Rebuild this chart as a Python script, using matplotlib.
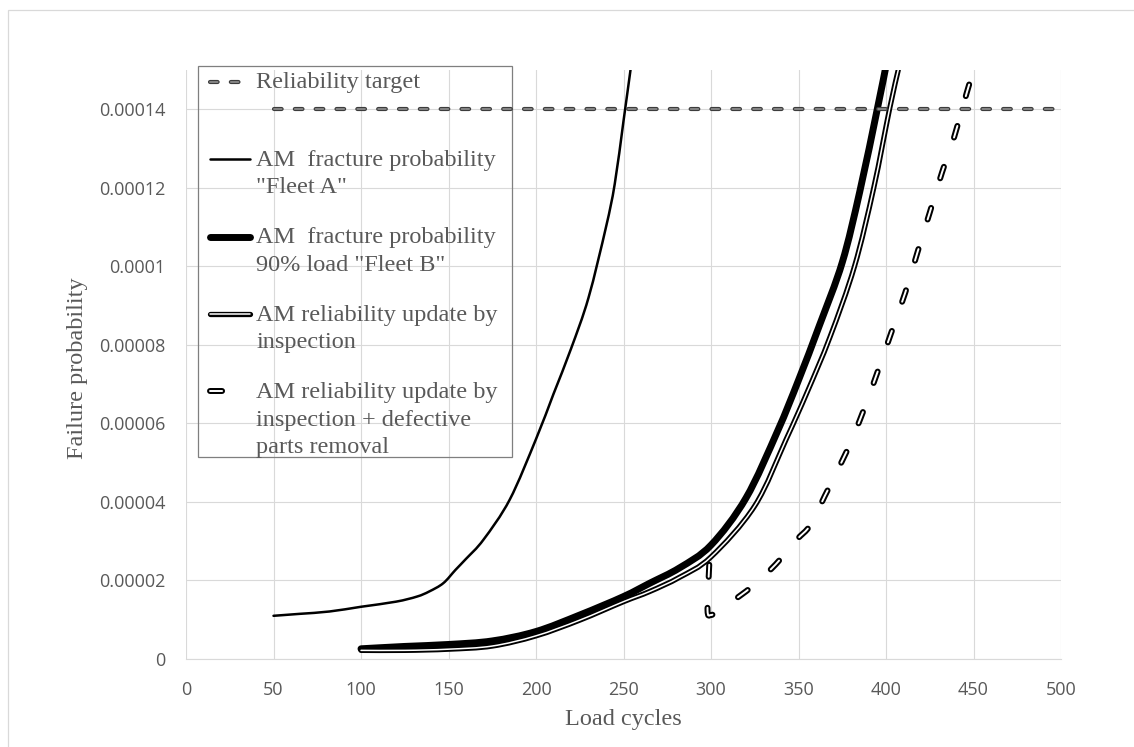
import numpy as np
import matplotlib
matplotlib.use("Agg")
import matplotlib.pyplot as plt
from matplotlib.legend_handler import HandlerLine2D
from matplotlib.lines import Line2D
from matplotlib.patches import Rectangle, PathPatch
from matplotlib.path import Path
import matplotlib.patheffects as pe

######  data  ######

# reliability target
target_x = [50, 500]
target_y = [0.00014, 0.00014]

# AM fracture probability "Fleet A"
fleetA_x = [50, 65, 82, 100, 120, 132, 139, 147, 154, 160, 170, 185, 200, 210, 220, 230, 240, 245, 250, 254]
fleetA_y = [1.10e-5, 1.15e-5, 1.21e-5, 1.33e-5, 1.46e-5, 1.59e-5, 1.72e-5, 1.93e-5, 2.27e-5, 2.55e-5,
            3.04e-5, 4.06e-5, 5.6e-5, 6.75e-5, 7.9e-5, 9.2e-5, 11.0e-5, 12.1e-5, 13.7e-5, 15.0e-5]

# AM fracture probability 90% load "Fleet B"
fleetB_x = [100, 125, 150, 175, 200, 225, 250, 265, 282, 300, 320, 338, 350, 362, 375, 385, 395, 400]
fleetB_y = [0.26e-5, 0.32e-5, 0.37e-5, 0.46e-5, 0.70e-5, 1.12e-5, 1.59e-5, 1.93e-5, 2.32e-5, 2.9e-5,
            4.1e-5, 5.8e-5, 7.1e-5, 8.5e-5, 10.1e-5, 11.9e-5, 14.0e-5, 15.1e-5]

# AM reliability update by inspection
insp_x = [100, 125, 150, 175, 200, 225, 250, 265, 282, 300, 325, 343, 355, 368, 382, 393, 402, 407]
insp_y = [0.22e-5, 0.22e-5, 0.25e-5, 0.33e-5, 0.59e-5, 0.99e-5, 1.46e-5, 1.72e-5, 2.08e-5, 2.6e-5,
          3.9e-5, 5.6e-5, 6.8e-5, 8.2e-5, 10.0e-5, 12.0e-5, 14.0e-5, 15.0e-5]

# AM reliability update by inspection + defective parts removal
remov_x = [299, 298, 300, 305, 315, 325, 333, 341, 349, 357, 365, 378, 387, 395, 403, 411, 418, 425,
           432, 439, 446, 450]
remov_y = [2.4e-5, 1.25e-5, 1.12e-5, 1.25e-5, 1.56e-5, 1.90e-5, 2.23e-5, 2.61e-5, 3.04e-5, 3.42e-5,
           4.15e-5, 5.33e-5, 6.31e-5, 7.29e-5, 8.31e-5, 9.33e-5, 10.36e-5, 11.37e-5, 12.39e-5,
           13.3e-5, 14.4e-5, 15.0e-5]

labels = ['Reliability target\n',
          'AM  fracture probability\n"Fleet A"',
          'AM  fracture probability\n90% load "Fleet B"',
          'AM reliability update by\ninspection',
          'AM reliability update by\ninspection + defective\nparts removal']

xticks = [0, 50, 100, 150, 200, 250, 300, 350, 400, 450, 500]
yticks = [0, 0.00002, 0.00004, 0.00006, 0.00008, 0.0001, 0.00012, 0.00014]
ytick_labels = ['0', '0.00002', '0.00004', '0.00006', '0.00008', '0.0001', '0.00012', '0.00014']

XMAX, YMAX = 500, 0.00015

######  style  ######

plt.rcParams['lines.scale_dashes'] = False
grey_txt = '#595959'
serif = 'Liberation Serif'
LEG_FS = 17.5


def smooth_path(x, y):
    """Excel-like 'smoothed line': Catmull-Rom through the points, as bezier segments"""
    P = np.column_stack([np.asarray(x, float) / XMAX, np.asarray(y, float) / YMAX])
    n = len(P)
    verts = [P[0]]
    codes = [Path.MOVETO]
    for i in range(n - 1):
        p0 = P[i - 1] if i > 0 else P[i]
        p3 = P[i + 2] if i + 2 < n else P[i + 1]
        verts += [P[i] + (P[i + 1] - p0) / 6, P[i + 1] - (p3 - P[i]) / 6, P[i + 1]]
        codes += [Path.CURVE4] * 3
    return Path(np.array(verts) * [XMAX, YMAX], codes)


class FirstLineHandler(HandlerLine2D):
    """legend handle sitting on the first text line (Excel style)"""
    def __init__(self, lift, **kw):
        super().__init__(marker_pad=0, **kw)
        self.lift = lift

    def create_artists(self, legend, orig_handle, xdescent, ydescent, width, height, fontsize, trans):
        arts = super().create_artists(legend, orig_handle, xdescent, ydescent, width, height, fontsize, trans)
        for a in arts:
            a.set_ydata(np.asarray(a.get_ydata()) + self.lift)
        return arts


fig = plt.figure(figsize=(11.34, 7.47), dpi=100)
W, H = 1134, 747
ax = fig.add_axes([186 / W, 1 - 659 / H, 875 / W, 589 / H])

# outer chart border (only left/top edges visible)
fig.add_artist(Rectangle((8 / W, -0.05), 1.2, 1 - 10 / H + 0.05, transform=fig.transFigure,
                         fill=False, edgecolor='#d9d9d9', linewidth=0.9))

# line styles (also used for the legend proxies)
st_target = dict(color='#8a8a8a', lw=1.3, dashes=(5.5, 9.5), dash_capstyle='round',
                 path_effects=[pe.Stroke(linewidth=3.0, foreground='#3c3c3c'), pe.Normal()])
st_a = dict(color='black', lw=1.8, solid_capstyle='round')
st_b = dict(color='black', lw=5, solid_capstyle='round')
st_insp = dict(color='white', lw=1.1, solid_capstyle='round',
               path_effects=[pe.Stroke(linewidth=3.8, foreground='black'), pe.Normal()])
st_rem = dict(color='white', lw=1.4, dashes=(8.7, 22.3), dash_capstyle='round',
              path_effects=[pe.Stroke(linewidth=4.3, foreground='black'), pe.Normal()])

ax.plot(target_x, target_y, **st_target)
ax.add_patch(PathPatch(smooth_path(fleetA_x, fleetA_y), fill=False, edgecolor='black', lw=1.8,
                       capstyle='round', joinstyle='round'))
ax.add_patch(PathPatch(smooth_path(fleetB_x, fleetB_y), fill=False, edgecolor='black', lw=5,
                       capstyle='round', joinstyle='round'))
ax.add_patch(PathPatch(smooth_path(insp_x, insp_y), fill=False, edgecolor='white', lw=1.1,
                       capstyle='round', joinstyle='round',
                       path_effects=[pe.Stroke(linewidth=3.8, foreground='black'), pe.Normal()]))
ax.add_patch(PathPatch(smooth_path(remov_x, remov_y), fill=False, edgecolor='white', lw=1.4,
                       linestyle=(0, (8.7, 22.3)), capstyle='round', joinstyle='round',
                       path_effects=[pe.Stroke(linewidth=4.3, foreground='black'), pe.Normal()]))

ax.set_xlim(0, XMAX)
ax.set_ylim(0, YMAX)
ax.set_xticks(xticks)
ax.set_yticks(yticks)
ax.set_yticklabels(ytick_labels)
ax.grid(True, color='#d9d9d9', lw=0.8)
ax.set_axisbelow(True)
for s in ['top', 'right', 'left']:
    ax.spines[s].set_visible(False)
ax.spines['bottom'].set_color('#d9d9d9')
ax.tick_params(length=0, labelcolor=grey_txt, labelsize=13)
ax.tick_params(axis='x', pad=15.5)
ax.tick_params(axis='y', pad=15)
for t in ax.get_xticklabels() + ax.get_yticklabels():
    t.set_fontfamily('Open Sans')

fig.text(623.5 / W, 1 - 720 / H, 'Load cycles', ha='center', va='center',
         fontsize=17.5, family=serif, color=grey_txt)
fig.text(77.5 / W, 1 - 368 / H, 'Failure probability', ha='center', va='center',
         rotation=90, fontsize=17.5, family=serif, color=grey_txt)

# legend (proxies with the same styles as the drawn series)
line_pt = 20.4
handles = [Line2D([], [], **st) for st in (st_target, st_a, st_b, st_insp, st_rem)]
hmap = {h: FirstLineHandler(lift=lab.count('\n') * line_pt / 2) for h, lab in zip(handles, labels)}
leg = ax.legend(handles, labels, loc='upper left', bbox_to_anchor=(210 / W, 1 - 72 / H),
                bbox_transform=fig.transFigure, frameon=False, borderpad=0, borderaxespad=0,
                handlelength=1.65, handletextpad=0.25, labelspacing=1.2,
                prop={'family': serif, 'size': LEG_FS}, labelcolor=grey_txt, handler_map=hmap)
for t in leg.get_texts():
    t.set_linespacing(1.4)
ax.add_patch(Rectangle((198 / W, 1 - 457 / H), 314 / W, 391 / H, transform=fig.transFigure,
                       fill=False, edgecolor='#7f7f7f', linewidth=0.9, clip_on=False))

fig.savefig('out.png', dpi=100)
